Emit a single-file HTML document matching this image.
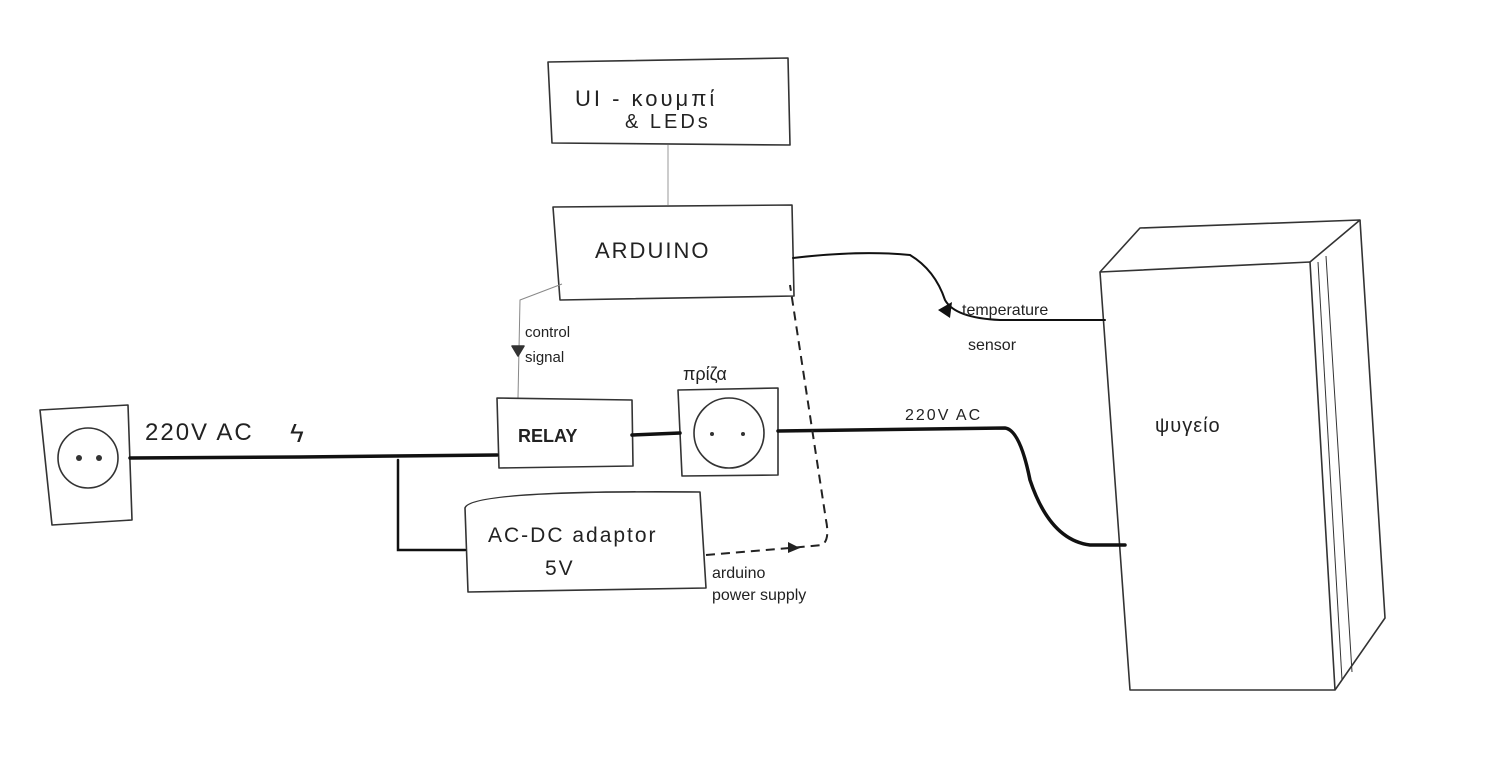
<!DOCTYPE html>
<html><head><meta charset="utf-8"><style>
html,body{margin:0;padding:0;background:#fff;}
svg{display:block;}
text{font-family:"Liberation Sans","DejaVu Sans",sans-serif;fill:#222;}
</style></head><body>
<svg width="1491" height="769" viewBox="0 0 1491 769" xmlns="http://www.w3.org/2000/svg">
<g fill="none" stroke="#333" stroke-width="1.6" stroke-linejoin="round">
<!-- UI box -->
<path d="M548,62 L788,58 L790,145 L552,143 Z"/>
<path d="M668,145 L668,205" stroke="#999" stroke-width="1"/>
<!-- Arduino -->
<path d="M553,207 L792,205 L794,296 L560,300 Z"/>
<!-- control signal -->
<path d="M562,284 L520,300 L518,398" stroke="#888" stroke-width="1"/>
<path d="M512,346 L524,346 L518,356 Z" fill="#333"/>
<!-- Relay -->
<path d="M497,398 L632,400 L633,466 L499,468 Z"/>
<!-- socket pritza -->
<path d="M678,390 L778,388 L778,475 L682,476 Z"/>
<circle cx="729" cy="433" r="35"/>
<!-- left outlet -->
<path d="M40,410 L128,405 L132,520 L52,525 Z"/>
<circle cx="88" cy="458" r="30"/>
<!-- AC-DC -->
<path d="M465,508 Q470,490 700,492 L706,588 L468,592 Z"/>
<!-- fridge -->
<path d="M1100,272 L1310,262 L1335,690 L1130,690 Z"/>
<path d="M1100,272 L1140,228 L1360,220 L1310,262"/>
<path d="M1360,220 L1385,618 L1335,690"/>
<path d="M1318,262 L1342,680" stroke-width="1"/>
<path d="M1326,256 L1352,672" stroke-width="1"/>
</g>
<g fill="none" stroke="#111" stroke-width="3.5" stroke-linecap="round">
<path d="M130,458 L300,457 L497,455"/>
<path d="M398,460 L398,550 L465,550" stroke-width="2.5"/>
<path d="M632,435 L680,433"/>
<path d="M778,431 L1005,428 Q1020,430 1030,480 Q1050,540 1090,545 L1125,545"/>
<path d="M793,258 Q860,250 910,255 Q935,270 945,300 Q955,318 1000,320 L1105,320" stroke-width="2"/>
</g>
<path d="M938,310 L952,302 L950,318 Z" fill="#111"/>
<g fill="none" stroke="#222" stroke-width="2" stroke-dasharray="9,6">
<path d="M706,555 L790,548 L822,545 Q830,540 826,520 L790,285"/>
</g>
<path d="M788,542 L800,548 L788,553 Z" fill="#222"/>
<circle cx="712" cy="434" r="2" fill="#333"/><circle cx="743" cy="434" r="2" fill="#333"/>
<circle cx="79" cy="458" r="3" fill="#333"/><circle cx="99" cy="458" r="3" fill="#333"/>
<text x="575" y="106" font-size="22" letter-spacing="3">UI - κουμπί</text>
<text x="625" y="128" font-size="20" letter-spacing="3">&amp; LEDs</text>
<text x="595" y="258" font-size="22" letter-spacing="2">ARDUINO</text>
<text x="525" y="337" font-size="15">control</text>
<text x="525" y="362" font-size="15">signal</text>
<text x="518" y="442" font-size="18" font-weight="bold">RELAY</text>
<text x="683" y="380" font-size="18">πρίζα</text>
<text x="145" y="440" font-size="24" letter-spacing="2">220V AC</text>
<text x="290" y="442" font-size="26">ϟ</text>
<text x="905" y="420" font-size="16" letter-spacing="2">220V AC</text>
<text x="488" y="542" font-size="21" letter-spacing="2">AC-DC adaptor</text>
<text x="545" y="575" font-size="21" letter-spacing="2">5V</text>
<text x="712" y="578" font-size="16">arduino</text>
<text x="712" y="600" font-size="16">power supply</text>
<text x="962" y="315" font-size="16">temperature</text>
<text x="968" y="350" font-size="16">sensor</text>
<text x="1155" y="432" font-size="20" letter-spacing="1">ψυγείο</text>
</svg>
</body></html>
